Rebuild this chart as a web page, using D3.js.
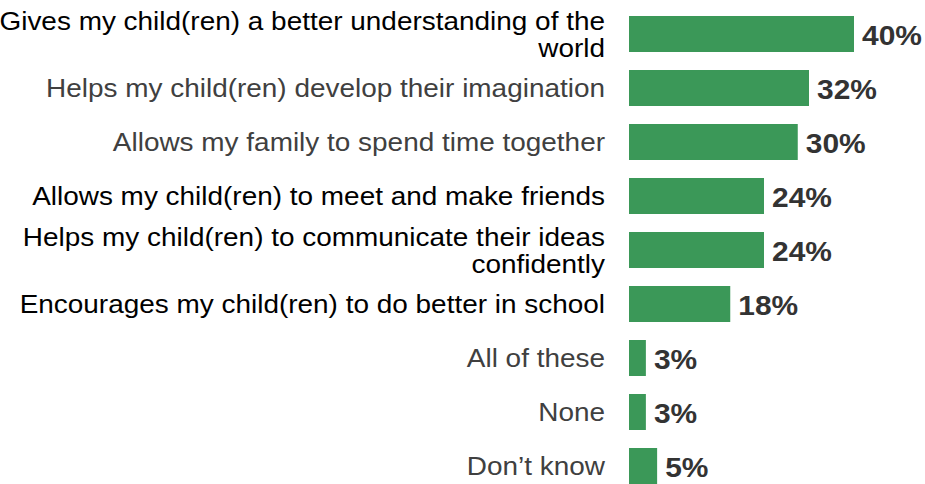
<!DOCTYPE html>
<html>
<head>
<meta charset="utf-8">
<script src="https://cdn.jsdelivr.net/npm/d3@7"></script>
<style>
  html, body { margin: 0; padding: 0; background: #fff; }
  svg { display: block; }
</style>
</head>
<body>
<svg id="chart" width="925" height="484"></svg>
<script>
// Survey responses: benefits parents see for their children
const categories = [
  ["Gives my child(ren) a better understanding of the", "world"],
  ["Helps my child(ren) develop their imagination"],
  ["Allows my family to spend time together"],
  ["Allows my child(ren) to meet and make friends"],
  ["Helps my child(ren) to communicate their ideas", "confidently"],
  ["Encourages my child(ren) to do better in school"],
  ["All of these"],
  ["None"],
  ["Don\u2019t know"]
];
const values = [40, 32, 30, 24, 24, 18, 3, 3, 5];
const labelTone = ["dark", "grey", "grey", "dark", "dark", "dark", "grey", "grey", "grey"];

const barLeft = 629, labelRight = 605;
const fontFamily = "Liberation Sans, Arial, Helvetica, sans-serif";

const svg = d3.select("#chart");

const x = d3.scaleLinear().domain([0, 40]).range([barLeft, 854]);
const y = d3.scaleBand()
  .domain(d3.range(categories.length))
  .range([7, 493])
  .paddingInner(1 / 3)
  .paddingOuter(1 / 6);

const rows = svg.selectAll("g.row")
  .data(values.map((v, i) => ({ v, i })))
  .join("g")
  .attr("class", "row");

// bars
rows.append("rect")
  .attr("x", x(0))
  .attr("y", d => y(d.i))
  .attr("width", d => x(d.v) - x(0))
  .attr("height", y.bandwidth())
  .attr("fill", "#3b9858");

// value labels at the bar ends (slightly widened type)
rows.append("text")
  .attr("transform", d => `translate(${x(d.v) + 8},${y(d.i) + y.bandwidth() / 2}) scale(1.07,1)`)
  .attr("dy", "0.41em")
  .attr("font-family", fontFamily)
  .attr("font-weight", "bold")
  .attr("font-size", 28)
  .attr("fill", "#333")
  .text(d => d.v + "%");

// category labels, right-aligned against the bars
const lineH = 26.5;
const labels = rows.append("text")
  .attr("transform", `translate(${labelRight},0) scale(1.118,1)`)
  .attr("text-anchor", "end")
  .attr("font-family", fontFamily)
  .attr("font-size", 25)
  .attr("fill", d => labelTone[d.i] === "dark" ? "#000" : "#404040");

labels.selectAll("tspan")
  .data(d => categories[d.i].map((t, k, arr) => ({
    t, cy: y(d.i) + y.bandwidth() / 2 + (k - (arr.length - 1) / 2) * lineH
  })))
  .join("tspan")
  .attr("x", 0)
  .attr("y", t => t.cy)
  .attr("dy", "0.38em")
  .text(t => t.t);
</script>
</body>
</html>
